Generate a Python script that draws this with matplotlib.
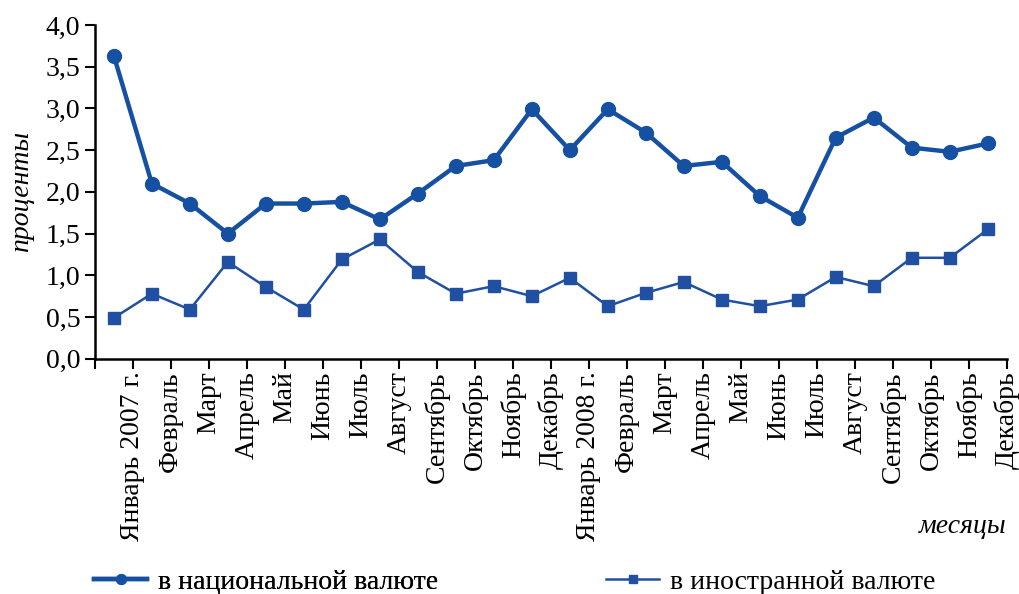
import numpy as np
import matplotlib
matplotlib.use('Agg')
import matplotlib.pyplot as plt
import matplotlib.transforms as mtransforms
from matplotlib.ticker import FuncFormatter

plt.rcParams['font.family'] = ['Liberation Serif', 'DejaVu Serif']

months = ['Январь 2007 г.', 'Февраль', 'Март', 'Апрель', 'Май', 'Июнь', 'Июль',
          'Август', 'Сентябрь', 'Октябрь', 'Ноябрь', 'Декабрь',
          'Январь 2008 г.', 'Февраль', 'Март', 'Апрель', 'Май', 'Июнь', 'Июль',
          'Август', 'Сентябрь', 'Октябрь', 'Ноябрь', 'Декабрь']
national = [3.63, 2.10, 1.86, 1.50, 1.86, 1.86, 1.88, 1.67, 1.98, 2.31, 2.38, 2.99,
            2.50, 2.99, 2.71, 2.31, 2.36, 1.95, 1.69, 2.65, 2.89, 2.53, 2.48, 2.58]
foreign = [0.49, 0.78, 0.59, 1.16, 0.86, 0.59, 1.19, 1.43, 1.04, 0.78, 0.87, 0.75,
           0.97, 0.63, 0.79, 0.92, 0.71, 0.63, 0.71, 0.98, 0.87, 1.21, 1.21, 1.55]
yticks = [0.0, 0.5, 1.0, 1.5, 2.0, 2.5, 3.0, 3.5, 4.0]

FS = 20
fig = plt.figure(figsize=(10.2, 5.94), dpi=100)
ax = fig.add_axes([0.093, 0.396, 0.894, 0.562])

x = np.arange(len(months))
h1, = ax.plot(x, national, color='#1650a2', lw=3.2, marker='o', ms=10,
              label='в национальной валюте')
h2, = ax.plot(x, foreign, color='#2150a2', lw=1.8, marker='s', ms=9,
              label='в иностранной валюте')

ax.set_xlim(-0.5, len(months) - 0.5)
ax.set_ylim(0, 4.0)
ax.set_yticks(yticks)
ax.yaxis.set_major_formatter(FuncFormatter(lambda v, p: f'{v:.1f}'.replace('.', ',')))
ax.set_xticks(np.arange(-0.5, len(months)))
ax.set_xticklabels([''] + months, rotation=90, va='top', ha='center')
offset = mtransforms.ScaledTranslation(4 / 100, 0, fig.dpi_scale_trans)
for lbl in ax.get_xticklabels():
    lbl.set_transform(lbl.get_transform() + offset)

ax.tick_params(axis='both', labelsize=FS, width=1.5, length=7, direction='out')
ax.tick_params(axis='x', pad=2)
for s in ['top', 'right']:
    ax.spines[s].set_visible(False)
for s in ['left', 'bottom']:
    ax.spines[s].set_linewidth(1.8)

ax.set_ylabel('проценты', fontsize=FS, style='italic', labelpad=8)
fig.text(0.987, 0.113, 'месяцы', fontsize=FS, style='italic', ha='right', va='center')

prop = {'family': 'Liberation Serif', 'size': FS}
leg1 = fig.legend(handles=[h1], loc='center left', bbox_to_anchor=(0.068, 0.02),
                  frameon=False, prop=prop, handlelength=1.9, numpoints=1,
                  markerscale=0.7, handletextpad=0.4)
fig.add_artist(leg1)
fig.legend(handles=[h2], loc='center left', bbox_to_anchor=(0.570, 0.02),
           frameon=False, prop=prop, handlelength=1.9, numpoints=1,
           markerscale=0.7, handletextpad=0.4)

fig.savefig('out.png', dpi=100)
